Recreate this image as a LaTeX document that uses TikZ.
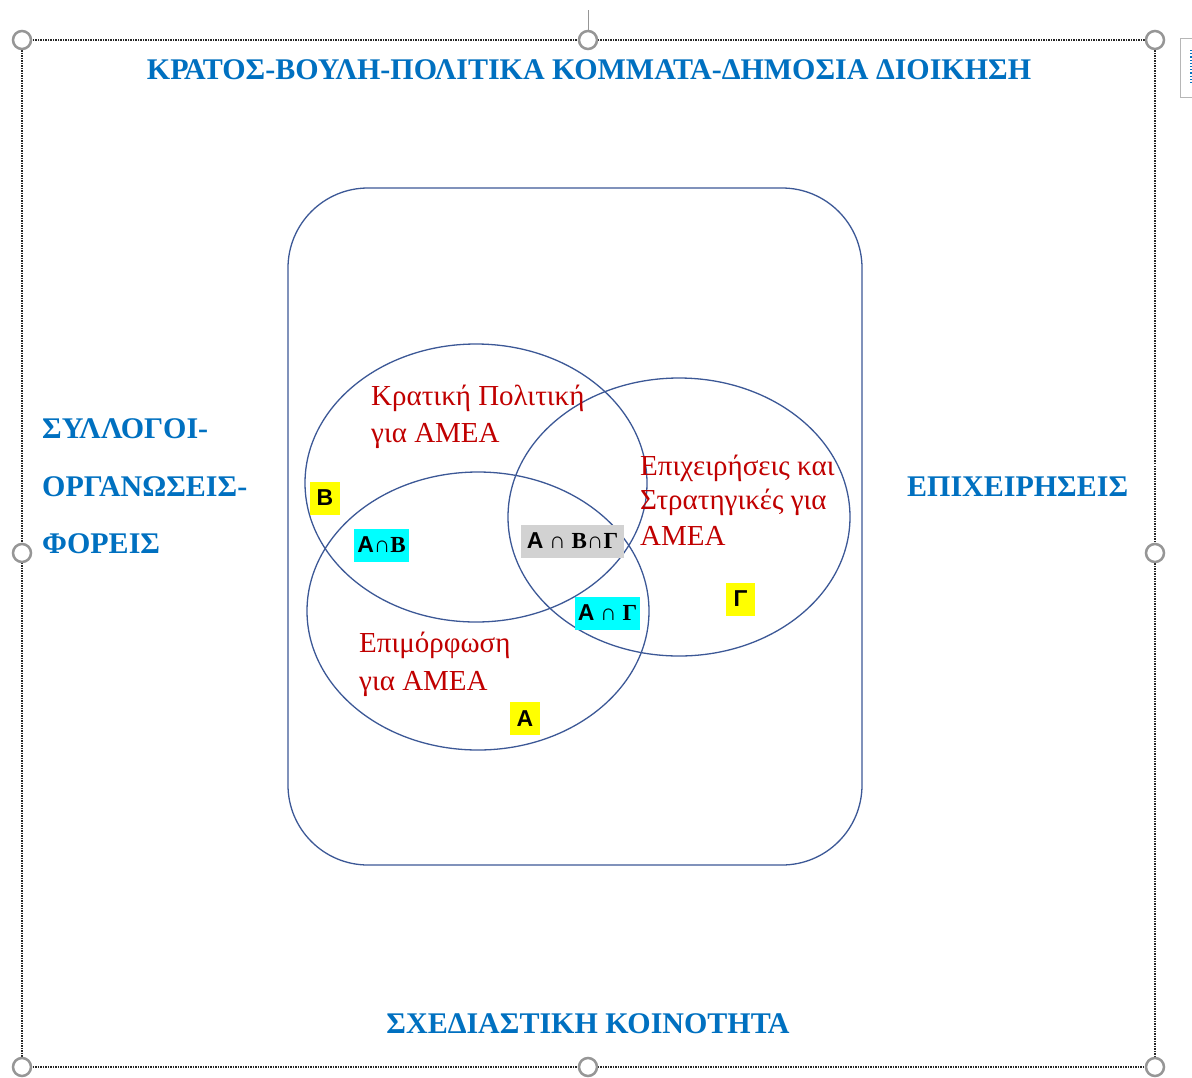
\documentclass[tikz,border=0pt]{standalone}
\usepackage{fontspec}
\setmainfont{Liberation Serif}
\setsansfont{Liberation Sans}
\usetikzlibrary{shapes.geometric}

\definecolor{sectorblue}{RGB}{0,112,192}
\definecolor{setred}{RGB}{192,0,0}
\definecolor{setline}{RGB}{60,88,150}
\definecolor{handlegray}{RGB}{150,150,150}
\definecolor{tagyellow}{RGB}{255,255,0}
\definecolor{tagcyan}{RGB}{0,255,255}
\definecolor{taggray}{RGB}{210,210,210}

\tikzstyle{frame}=[draw=black!85, line width=1.4pt, dash pattern=on 1.5pt off 1pt]
\tikzstyle{handle}=[draw=handlegray, fill=white, line width=2.5pt, circle, minimum size=18pt, inner sep=0pt]
\tikzstyle{sector}=[font=\fontsize{30}{34}\selectfont\bfseries, text=sectorblue, inner sep=0pt]
\tikzstyle{venn}=[draw=setline, line width=1.3pt, ellipse, minimum width=342pt, minimum height=278pt, inner sep=0pt]
\tikzstyle{setname}=[font=\fontsize{29}{34}\selectfont, text=setred, inner sep=0pt, anchor=base west]
\tikzstyle{tag}=[font=\fontsize{23}{26}\selectfont\bfseries, text=black, inner sep=0pt, minimum height=33pt]
\newcommand{\sfA}{{\sffamily Α}}
\newcommand{\cupthin}{{\mdseries ∩}}

\begin{document}
\begin{tikzpicture}[x=1pt, y=-1pt]
    \useasboundingbox (0,0) rectangle (1192,1077);

    % First we draw the frame with its handles
    \coordinate (fnw) at (22,40);
    \coordinate (fse) at (1155,1067);
    \draw[frame] (fnw) rectangle (fse);
    \foreach \pos/\name in {{(22,40)/hnw}, {(588,40)/hn}, {(1155,40)/hne}, {(22,553)/hw},
                            {(1155,553)/he}, {(22,1067)/hsw}, {(588,1067)/hs}, {(1155,1067)/hse}}
        \node[handle] (\name) at \pos {};
    \coordinate (rot) at (588,10);
    \draw[handlegray, line width=1pt] (rot) -- (hn);
    % layout button, cut by the page edge
    \draw[handlegray!70, line width=1pt] (1180,38) rectangle (1215,97);
    \draw[sectorblue, line width=1.2pt, dotted] (1191,50) -- (1191,84);

    % Sectors round the box
    \node[sector, anchor=base] (state) at (589,79) {ΚΡΑΤΟΣ-ΒΟΥΛΗ-ΠΟΛΙΤΙΚΑ ΚΟΜΜΑΤΑ-ΔΗΜΟΣΙΑ ΔΙΟΙΚΗΣΗ};
    \node[sector, anchor=base west] (unions1) at (42,438) {ΣΥΛΛΟΓΟΙ-};
    \node[sector, anchor=base west] (unions2) at (42,496) {ΟΡΓΑΝΩΣΕΙΣ-};
    \node[sector, anchor=base west] (unions3) at (42,553) {ΦΟΡΕΙΣ};
    \node[sector, anchor=base west] (firms) at (907,496) {ΕΠΙΧΕΙΡΗΣΕΙΣ};
    \node[sector, anchor=base] (design) at (588,1033) {ΣΧΕΔΙΑΣΤΙΚΗ ΚΟΙΝΟΤΗΤΑ};

    % The box and the three sets
    \node[draw=setline, line width=1.3pt, rounded corners=80pt,
          minimum width=574pt, minimum height=677pt] (world) at (575,526.5) {};
    \node[venn] (B) at (476,483) {};
    \node[venn] (A) at (478,611) {};
    \node[venn] (G) at (679,517) {};

    \node[setname] (kp1) at (371,405) {Κρατική Πολιτική};
    \node[setname] (kp2) at (371,442) {για ΑΜΕΑ};
    \node[setname] (ep1) at (640,475) {Επιχειρήσεις και};
    \node[setname] (ep2) at (640,509) {Στρατηγικές για};
    \node[setname] (ep3) at (640,545) {ΑΜΕΑ};
    \node[setname] (em1) at (359,652) {Επιμόρφωση};
    \node[setname] (em2) at (359,690) {για ΑΜΕΑ};

    % Tags of the regions
    \node[tag, fill=tagyellow, minimum width=30pt] (tB) at (325,498) {\sffamily Β};
    \node[tag, fill=tagcyan, minimum width=55pt] (tAB) at (381.5,545) {\sfA∩Β};
    \node[tag, fill=taggray, minimum width=103pt] (tABG) at (572.5,541) {\sfA{} \cupthin{} Β\cupthin Γ};
    \node[tag, fill=tagcyan, minimum width=65pt] (tAG) at (607.5,613) {\sfA{} \cupthin{} Γ};
    \node[tag, fill=tagyellow, minimum width=29pt] (tG) at (740.5,599) {\sffamily Γ};
    \node[tag, fill=tagyellow, minimum width=30pt] (tA) at (525,718.5) {\sffamily Α};
\end{tikzpicture}
\end{document}
